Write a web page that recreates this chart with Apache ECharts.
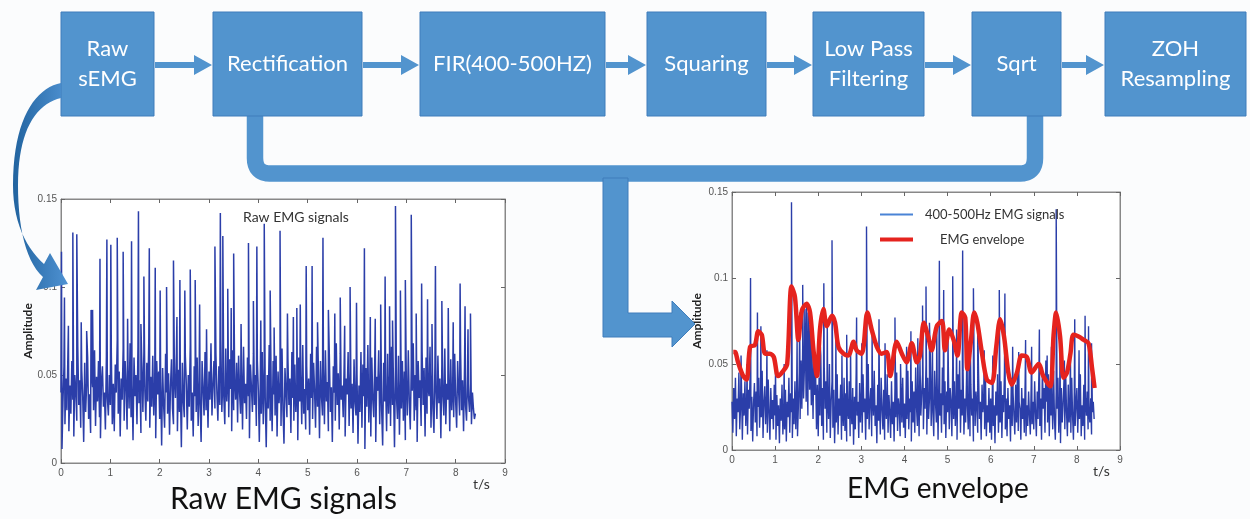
<!DOCTYPE html>
<html>
<head>
<meta charset="utf-8">
<script src="https://cdn.jsdelivr.net/npm/echarts@6/dist/echarts.min.js"></script>
<style>
  html, body { margin: 0; padding: 0; background: #fbfcfd; }
  #main { width: 1250px; height: 519px; }
</style>
</head>
<body>
<div id="main"></div>
<script>
// values in thousandths (x 0.001), sampled every 0.02 s
const rawDt = 0.02;
const rawBase = [
  40,8,35,55,22,48,30,62,18,44,28,58,36,15,50,41,24,66,33,47,20,53,38,12,57,29,45,60,25,39,17,52,43,30,64,21,49,35,58,26,14,46,55,32,40,19,61,37,27,50,
  33,62,22,45,18,56,40,70,28,52,15,48,36,65,24,58,42,19,53,31,68,26,44,13,60,38,50,22,66,34,47,17,55,29,63,41,24,57,35,71,20,49,32,61,27,44,14,58,39,52,
  25,46,10,54,33,20,62,40,28,51,16,44,59,31,22,48,37,64,18,53,29,42,9,57,35,26,61,45,19,50,32,67,24,40,15,55,38,29,60,21,47,34,12,58,42,27,63,30,48,20,
  52,36,68,27,44,58,31,62,40,24,55,33,70,29,48,38,22,65,35,51,26,59,42,18,64,30,47,36,57,23,61,40,28,53,19,66,34,45,25,60,38,14,56,43,29,62,33,50,21,58,
  41,12,47,28,63,22,55,36,9,50,31,67,24,44,18,58,39,27,61,15,52,34,46,21,65,30,11,54,40,26,59,33,48,17,63,37,24,56,29,45,13,60,35,50,22,67,28,42,19,55,
  30,48,16,62,37,25,57,41,20,66,32,49,14,58,38,27,53,22,64,35,46,18,60,29,43,12,55,40,24,68,33,51,19,62,36,44,26,57,15,48,39,63,21,52,31,45,17,59,34,27,
  50,11,44,29,63,20,56,38,8,54,32,67,23,47,15,60,36,26,58,12,49,41,64,22,53,30,10,57,35,45,18,62,28,50,21,66,33,43,9,55,38,25,61,16,47,31,58,24,52,13,
  46,27,64,35,19,55,41,68,24,50,30,12,58,37,47,21,63,33,54,15,60,28,44,38,66,20,52,31,17,57,42,25,61,34,48,14,56,39,27,65,22,45,36,53,18,59,30,43,26,62,
  35,20,58,41,27,63,30,47,18,55,33,24,50,38,29,45,22,40,31,25,28
];
const rawSpikeT = [0.01,0.07,0.15,0.24,0.32,0.41,0.52,0.61,0.64,0.79,0.93,1.01,1.14,1.26,1.35,1.43,1.57,1.62,1.68,1.79,1.91,
  2.01,2.14,2.28,2.35,2.41,2.51,2.62,2.72,2.81,2.95,3.12,3.23,3.28,3.38,3.45,3.50,3.65,3.80,3.90,3.97,
  4.05,4.12,4.24,4.32,4.44,4.59,4.71,4.78,4.85,4.97,5.09,5.20,5.31,5.42,5.55,5.66,5.75,5.86,5.99,
  6.15,6.27,6.37,6.48,6.57,6.66,6.72,6.78,6.88,6.98,7.10,7.20,7.31,7.43,7.52,7.59,7.72,7.85,7.95,
  8.09,8.19,8.25,8.30];
const rawSpikeV = [120,94,78,131,130,80,75,87,87,116,127,124,128,120,82,126,143,79,106,122,111,
  98,100,115,83,104,98,110,104,90,76,123,142,129,99,88,119,79,125,92,123,
  81,136,98,77,132,85,83,88,90,112,112,80,128,87,85,94,78,100,91,
  122,83,82,90,106,89,81,146,98,104,141,85,102,93,79,112,92,88,80,
  102,89,76,85];

const filtDt = 0.02;
const filtBase = [
  28,10,36,18,42,8,30,22,45,12,26,38,6,33,20,40,14,29,9,35,24,44,11,31,5,27,39,16,34,8,25,42,13,30,19,46,7,28,37,15,32,10,41,22,6,36,18,29,12,38,
  20,6,32,14,26,4,30,17,38,9,24,12,35,5,28,19,42,10,33,22,7,30,15,40,12,36,8,26,45,18,52,24,60,30,48,66,28,55,20,62,35,72,26,50,18,58,32,44,12,38,
  8,42,20,55,14,36,6,48,24,40,10,32,18,50,7,28,40,13,35,4,26,16,44,9,30,20,38,6,27,14,42,11,33,5,24,18,40,8,29,15,36,3,31,12,45,20,28,7,39,16,
  34,10,44,22,30,6,40,18,50,12,28,36,8,33,20,46,14,26,4,38,17,30,9,42,24,12,35,6,29,18,44,10,32,22,7,40,15,28,5,36,19,45,11,30,24,8,38,16,42,13,
  27,7,36,18,46,12,30,22,5,40,16,34,10,48,25,14,38,8,52,20,32,44,12,36,24,50,9,42,18,30,55,14,40,22,8,46,28,16,38,6,44,20,33,10,48,26,15,40,7,34,
  22,45,12,36,28,8,50,18,40,14,32,6,44,24,52,10,35,20,46,9,30,16,42,26,12,48,8,38,20,30,5,40,14,34,24,10,44,18,28,6,38,22,32,12,42,8,26,16,36,10,
  30,6,38,14,26,4,34,20,44,10,28,16,40,7,32,22,46,12,30,8,36,18,26,5,42,14,33,20,9,38,16,44,11,28,24,6,36,18,30,10,40,8,26,14,34,20,9,38,15,28,
  12,40,22,8,34,18,46,14,30,6,48,24,36,10,52,28,16,44,8,38,20,30,12,46,18,6,34,24,42,10,30,4,36,16,26,40,12,44,22,8,38,16,30,10,42,20,6,34,14,26,
  36,10,30,18,44,8,26,14,38,6,30,20,34,12,24,16,30,9,22,28,18
];
const filtSpikeT = [0.21,0.35,0.43,0.59,0.67,0.81,1.01,1.21,1.38,1.51,1.57,1.64,1.69,1.73,1.77,1.81,1.85,
  2.05,2.13,2.21,2.32,2.41,2.55,2.66,2.75,2.89,3.01,3.12,3.25,3.41,3.55,3.78,3.91,
  4.05,4.15,4.31,4.42,4.50,4.58,4.65,4.75,4.81,4.91,5.01,5.12,5.21,5.35,5.45,5.53,5.60,5.70,5.85,
  6.05,6.20,6.33,6.51,6.65,6.81,6.95,7.13,7.31,7.41,7.52,7.61,7.71,7.85,7.95,8.05,8.19,8.27,8.34];
const filtSpikeV = [55,50,100,80,72,58,48,50,144,64,80,96,82,85,80,73,70,
  60,97,75,122,65,55,67,60,77,62,130,68,76,62,77,50,
  60,69,65,84,95,74,60,70,110,93,65,101,70,116,72,60,94,73,58,
  55,93,91,60,57,64,60,70,55,60,140,60,52,60,76,58,78,72,62];

const envT = [0.03,0.07,0.14,0.26,0.34,0.42,0.53,0.61,0.69,0.77,0.88,0.97,1.07,1.19,1.28,1.38,1.46,1.54,1.62,1.73,1.81,1.89,1.97,
  2.04,2.12,2.20,2.32,2.39,2.47,2.59,2.70,2.82,2.89,3.01,3.14,3.24,3.36,3.47,3.59,3.67,3.82,3.94,
  4.05,4.17,4.29,4.36,4.45,4.55,4.63,4.75,4.87,4.94,5.04,5.14,5.23,5.33,5.41,5.46,5.54,5.62,5.69,5.80,5.91,
  6.03,6.13,6.22,6.31,6.41,6.49,6.61,6.72,6.84,6.95,7.11,7.22,7.38,7.46,7.52,7.61,7.69,7.77,7.85,7.92,
  8.04,8.16,8.27,8.35,8.41];
const envV = [57,57,51,43,41,60,61,69,67,56,56,54,43,46,50,95,89,64,81,85,80,58,43,
  70,82,72,78,74,60,56,55,63,58,56,80,70,60,56,57,43,63,56,
  51,62,51,55,74,66,58,72,75,58,70,64,55,80,77,47,63,80,74,56,41,
  39,60,76,66,45,38,45,55,54,45,50,43,37,67,80,66,42,45,56,67,
  66,64,62,48,36];

function buildSignal(base, dt, spT, spV) {
  const pts = base.map((v, i) => [+(i * dt).toFixed(2), v / 1000]);
  spT.forEach((t, i) => pts.push([t, spV[i] / 1000]));
  pts.sort((a, b) => a[0] - b[0]);
  return pts;
}
const rawData = buildSignal(rawBase, rawDt, rawSpikeT, rawSpikeV);
const filtData = buildSignal(filtBase, filtDt, filtSpikeT, filtSpikeV);
const envData = envT.map((t, i) => [t, envV[i] / 1000]);

// sample a cubic / quadratic bezier into polygon points (decoration only)
function cubic(p0, c1, c2, p3, n) {
  const out = [];
  for (let k = 1; k <= n; k++) {
    const s = k / n, r = 1 - s;
    out.push([
      r * r * r * p0[0] + 3 * r * r * s * c1[0] + 3 * r * s * s * c2[0] + s * s * s * p3[0],
      r * r * r * p0[1] + 3 * r * r * s * c1[1] + 3 * r * s * s * c2[1] + s * s * s * p3[1]
    ]);
  }
  return out;
}
function quad(p0, c, p2, n) {
  const out = [];
  for (let k = 1; k <= n; k++) {
    const s = k / n, r = 1 - s;
    out.push([r * r * p0[0] + 2 * r * s * c[0] + s * s * p2[0], r * r * p0[1] + 2 * r * s * c[1] + s * s * p2[1]]);
  }
  return out;
}

const BLUE = '#5294ce';
const SIG = '#2b3ea9';
const boxes = [
  { text: 'Raw\nsEMG', x1: 61, x2: 154 },
  { text: 'Rectification', x1: 213, x2: 362 },
  { text: 'FIR(400-500HZ)', x1: 420, x2: 605 },
  { text: 'Squaring', x1: 647, x2: 766 },
  { text: 'Low Pass\nFiltering', x1: 813, x2: 924 },
  { text: 'Sqrt', x1: 972, x2: 1061 },
  { text: 'ZOH\nResampling', x1: 1105, x2: 1246 }
];

const graphics = [];
boxes.forEach((b, i) => {
  graphics.push({
    type: 'rect', z: 20,
    shape: { x: b.x1, y: 12, width: b.x2 - b.x1, height: 104 },
    style: { fill: BLUE, stroke: '#3f7dbb', lineWidth: 1 }
  });
  graphics.push({
    type: 'text', z: 21,
    style: {
      text: b.text, x: (b.x1 + b.x2) / 2, y: 64, align: 'center', verticalAlign: 'middle',
      fill: '#fff', fontSize: 22, lineHeight: 30, fontFamily: 'Lato'
    }
  });
  if (i > 0) {
    const a = boxes[i - 1].x2 + 1, e = b.x1 - 1, y = 65;
    graphics.push({
      type: 'polygon', z: 20,
      shape: { points: [[a, y - 3], [e - 18, y - 3], [e - 18, y - 10], [e, y], [e - 18, y + 10], [e - 18, y + 3], [a, y + 3]] },
      style: { fill: BLUE }
    });
  }
});
// bracket from Rectification to Sqrt
const bracket = [[255, 112], [255, 158]]
  .concat(quad([255, 158], [255, 173.5], [270, 173.5], 8))
  .concat([[1020, 173.5]])
  .concat(quad([1020, 173.5], [1035, 173.5], [1035, 158], 8))
  .concat([[1035, 112]]);
graphics.push({
  type: 'polyline', z: 19,
  shape: { points: bracket },
  style: { stroke: BLUE, lineWidth: 16.5, fill: null, lineJoin: 'round' }
});
// L-shaped arrow to the envelope chart
graphics.push({
  type: 'polygon', z: 19,
  shape: { points: [[603, 178], [628, 178], [628, 313], [672, 313], [672, 301], [695, 324], [672, 347], [672, 337], [603, 337]] },
  style: { fill: BLUE, stroke: '#3f7dbb', lineWidth: 1 }
});
// curved arrow from Raw sEMG to the raw chart
const curve = [[61, 83]]
  .concat(cubic([61, 83], [35, 88], [13, 120], [13, 185], 20))
  .concat(cubic([13, 185], [13, 222], [26, 248], [44, 264], 14))
  .concat([[50, 253], [68, 284], [36, 290], [43, 277]])
  .concat(cubic([43, 277], [26, 262], [18, 228], [18, 185], 14))
  .concat(cubic([18, 185], [18, 132], [35, 104], [61, 98], 20));
graphics.push({
  type: 'polygon', z: 22,
  shape: { points: curve },
  style: {
    fill: { type: 'linear', x: 0, y: 0, x2: 1, y2: 0, colorStops: [{ offset: 0, color: '#21639f' }, { offset: 1, color: '#4f92d2' }] }
  }
});
graphics.push({
  type: 'text', z: 5,
  style: { text: 't/s', x: 473, y: 484, verticalAlign: 'middle', fontSize: 14, fontFamily: 'Lato', fill: '#333' }
});
graphics.push({
  type: 'text', z: 5,
  style: { text: 't/s', x: 1093, y: 471, verticalAlign: 'middle', fontSize: 14, fontFamily: 'Lato', fill: '#333' }
});
graphics.push({
  type: 'text', z: 5,
  style: { text: 'Raw EMG signals', x: 243, y: 217, verticalAlign: 'middle', fontSize: 14, fontFamily: 'Lato', fill: '#333' }
});

function xAx(grid, pos) {
  return {
    type: 'value', gridIndex: grid, position: pos, min: 0, max: 9, interval: 1,
    axisLine: { show: true, onZero: false, lineStyle: { color: '#888', width: 1 } },
    axisTick: { show: true, inside: true, length: 4, lineStyle: { color: '#666' } },
    axisLabel: { show: pos === 'bottom', fontSize: 10, color: '#555', margin: 5, fontFamily: 'Liberation Sans' },
    splitLine: { show: false }
  };
}
function yAx(grid, pos, gap) {
  const ax = {
    type: 'value', gridIndex: grid, position: pos, min: 0, max: 0.15, interval: 0.05,
    axisLine: { show: true, onZero: false, lineStyle: { color: '#888', width: 1 } },
    axisTick: { show: true, inside: true, length: 4, lineStyle: { color: '#666' } },
    axisLabel: { show: pos === 'left', fontSize: 10, color: '#555', margin: 4, fontFamily: 'Liberation Sans' },
    splitLine: { show: false }
  };
  if (pos === 'left') {
    ax.name = 'Amplitude';
    ax.nameLocation = 'middle';
    ax.nameGap = gap;
    ax.nameRotate = 90;
    ax.nameTextStyle = { fontSize: 12, fontWeight: 'bold', color: '#222', fontFamily: 'Lato' };
  }
  return ax;
}

const chart = echarts.init(document.getElementById('main'));
chart.setOption({
  backgroundColor: '#fbfcfd',
  animation: false,
  title: [
    { text: 'Raw EMG signals', left: 170, top: 484, padding: 0,
      textStyle: { fontFamily: 'Lato', fontSize: 30, fontWeight: 'normal', color: '#111' } },
    { text: 'EMG envelope', left: 847, top: 475, padding: 0,
      textStyle: { fontFamily: 'Lato', fontSize: 28, fontWeight: 'normal', color: '#111' } }
  ],
  legend: {
    orient: 'vertical', left: 875, top: 203, itemWidth: 33, itemHeight: 4, itemGap: 12,
    textStyle: { fontFamily: 'Lato', fontSize: 13, color: '#333' },
    data: [
      { name: '400-500Hz EMG signals', icon: 'path://M0 0H33V2H0Z', itemStyle: { color: '#4a84d6' }, textStyle: { padding: [0, 0, 0, 7] } },
      { name: 'EMG envelope', icon: 'rect', itemStyle: { color: '#e5231e' }, textStyle: { padding: [0, 0, 0, 22] } }
    ]
  },
  grid: [
    { left: 61, top: 199, width: 444, height: 264, show: true, borderColor: '#888', borderWidth: 1, backgroundColor: '#fff' },
    { left: 732, top: 192, width: 388, height: 258, show: true, borderColor: '#888', borderWidth: 1, backgroundColor: '#fff' }
  ],
  xAxis: [xAx(0, 'bottom'), xAx(0, 'top'), xAx(1, 'bottom'), xAx(1, 'top')],
  yAxis: [yAx(0, 'left', 27), yAx(0, 'right'), yAx(1, 'left', 29), yAx(1, 'right')],
  graphic: graphics,
  series: [
    { name: 'Raw EMG', type: 'line', xAxisIndex: 0, yAxisIndex: 0, data: rawData, showSymbol: false,
      lineStyle: { width: 1.5, color: SIG }, itemStyle: { color: SIG } },
    { name: '400-500Hz EMG signals', type: 'line', xAxisIndex: 2, yAxisIndex: 2, data: filtData, showSymbol: false,
      lineStyle: { width: 1.4, color: SIG }, itemStyle: { color: '#4a84d6' } },
    { name: 'EMG envelope', type: 'line', xAxisIndex: 2, yAxisIndex: 2, data: envData, showSymbol: false, smooth: 0.3,
      lineStyle: { width: 4.5, color: '#e5231e' }, itemStyle: { color: '#e5231e' } }
  ]
});
</script>
</body>
</html>
